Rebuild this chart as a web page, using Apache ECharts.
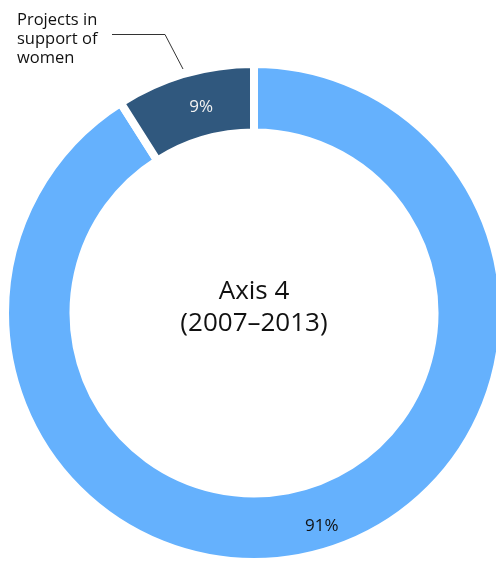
<!DOCTYPE html>
<html>
<head>
<meta charset="utf-8">
<script src="https://cdn.jsdelivr.net/npm/echarts@6/dist/echarts.min.js"></script>
<style>
  html, body { margin: 0; padding: 0; background: #fff; }
  #main { width: 496px; height: 561px; }
</style>
</head>
<body>
<div id="main"></div>
<script>
// data
var names = ['Other projects', 'Projects in\nsupport of\nwomen'];
var values = [91, 9];
var colors = ['#65b1fd', '#30587e'];
var labelColors = ['#111', '#f2f2f2'];
var centerLines = ['Axis 4', '(2007\u20132013)'];

var chart = echarts.init(document.getElementById('main'));

var font = 'Open Sans';

chart.setOption({
  animation: false,
  graphic: [{
    type: 'text',
    x: 254,
    y: 308,
    style: {
      text: centerLines.join('\n'),
      fontFamily: font,
      fontSize: 26,
      lineHeight: 32,
      fill: '#111',
      align: 'center',
      verticalAlign: 'middle'
    }
  }],
  series: [{
    type: 'pie',
    center: [254, 313],
    radius: [180.5, 249],
    startAngle: 90,
    clockwise: true,
    itemStyle: { borderColor: '#fff', borderWidth: 8 },
    label: {
      position: 'inside',
      formatter: '{c}%',
      fontFamily: font,
      fontSize: 17
    },
    data: names.map(function (n, i) {
      return {
        name: n,
        value: values[i],
        itemStyle: { color: colors[i] },
        label: { color: labelColors[i] }
      };
    }),
    labelLayout: function (params) {
      // 91% sits a little right of the slice middle
      if (params.dataIndex === 0) return { dx: 7, dy: 4 };
      return { dx: 8, dy: 3 };
    }
  }, {
    // callout for the small slice
    type: 'pie',
    center: [254, 313],
    radius: [180.5, 249],
    startAngle: 90,
    silent: true,
    itemStyle: { color: 'transparent' },
    label: { show: false },
    labelLine: { show: false },
    data: names.map(function (n, i) {
      var d = { name: n, value: values[i] };
      if (i === 1) {
        d.label = {
          show: true,
          position: 'outside',
          formatter: '{b}',
          fontFamily: font,
          fontSize: 16.5,
          lineHeight: 19,
          color: '#111'
        };
        d.labelLine = { show: true, lineStyle: { color: '#333', width: 1 } };
      }
      return d;
    }),
    labelLayout: function (params) {
      if (params.dataIndex !== 1) return {};
      return {
        x: 17,
        y: 11,
        align: 'left',
        verticalAlign: 'top',
        labelLinePoints: [[183, 69], [165, 34.5], [112, 34.5]]
      };
    }
  }]
});
</script>
</body>
</html>
